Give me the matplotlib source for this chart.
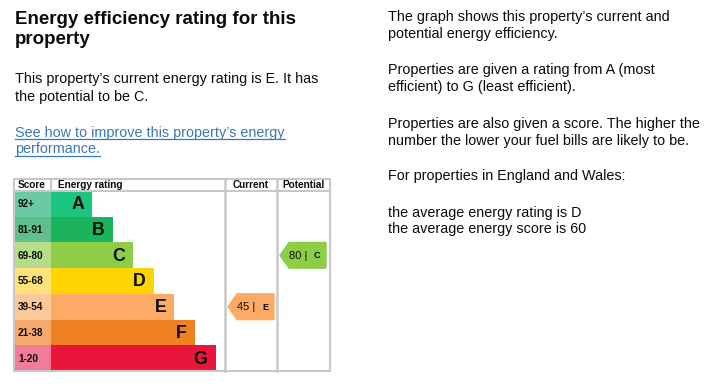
import matplotlib
matplotlib.use("Agg")
import matplotlib.pyplot as plt
from matplotlib.patches import Polygon, Rectangle

# ---- data ----
ratings = ["A", "B", "C", "D", "E", "F", "G"]
score_bands = ["92+", "81-91", "69-80", "55-68", "39-54", "21-38", "1-20"]
bar_colors = ["#1cc57f", "#1bb35b", "#8dce46", "#ffd500", "#fcaa65", "#ef8023", "#e9153b"]
band_colors = ["#6ccaa3", "#5fc08e", "#b6dd8a", "#ffe37a", "#fdc99a", "#f5a96a", "#f07c95"]
current_score, current_rating = 45, "E"
potential_score, potential_rating = 80, "C"
average_rating, average_score = "D", 60

title_lines = ["Energy efficiency rating for this", "property"]
summary_lines = [f"This property\u2019s current energy rating is {current_rating}. It has",
                 f"the potential to be {potential_rating}."]
link_lines = ["See how to improve this property\u2019s energy", "performance."]
right_paras = [
    ["The graph shows this property\u2019s current and", "potential energy efficiency."],
    ["Properties are given a rating from A (most", "efficient) to G (least efficient)."],
    ["Properties are also given a score. The higher the",
     "number the lower your fuel bills are likely to be."],
    ["For properties in England and Wales:"],
    [f"the average energy rating is {average_rating}",
     f"the average energy score is {average_score}"],
]

plt.rcParams["font.family"] = ["Liberation Sans", "DejaVu Sans"]
TXT = "#0b0c0c"
GRID = "#c8c8c8"

W, H = 721, 387
fig = plt.figure(figsize=(W / 100, H / 100), dpi=100)
ax = fig.add_axes([0, 0, 1, 1])
ax.set_xlim(0, W)
ax.set_ylim(H, 0)
ax.axis("off")

BODY = 10.4

# ---- left texts ----
for i, ln in enumerate(title_lines):
    ax.text(15, 24 + 19.5 * i, ln, fontsize=13.5, fontweight="bold", color=TXT,
            va="baseline")
for i, ln in enumerate(summary_lines):
    ax.text(15, 83.5 + 17.3 * i, ln, fontsize=BODY, color=TXT, va="baseline")
link_color = "#3a78b6"
link_texts = []
for i, ln in enumerate(link_lines):
    t = ax.text(15, 136.5 + 17 * i, ln, fontsize=BODY, color=link_color, va="baseline")
    link_texts.append(t)

# ---- right texts ----
para_y = [21, 74, 128, 180, 216.5]
for y, p in zip(para_y, right_paras):
    for j, ln in enumerate(p):
        ax.text(388, y + 16.7 * j, ln, fontsize=BODY, color=TXT, va="baseline")

# ---- chart ----
left, right = 14, 330
top, head_bot, bottom = 178.5, 191, 371
score_r, cur_l, pot_l = 51, 225, 277
row_h = (bottom - head_bot) / len(ratings)
ys = [head_bot + row_h * (i + 0.5) for i in range(len(ratings))]
bar_len = [41 + 20.6 * i for i in range(len(ratings))]

ax.barh(ys, [score_r - left] * len(ratings), left=left, height=row_h,
        color=band_colors, edgecolor="none", zorder=2)
ax.barh(ys, bar_len, left=score_r, height=row_h, color=bar_colors,
        edgecolor="none", zorder=2)

for y, lab in zip(ys, score_bands):
    ax.text(18, y + 0.5, lab, fontsize=7.2, fontweight="bold", color=TXT,
            va="center", ha="left", zorder=3)
for y, r, L in zip(ys, ratings, bar_len):
    ax.text(score_r + L - 8, y + 1, r, fontsize=12.8, fontweight="bold",
            color=TXT, va="center", ha="right", zorder=3)

# frame & grid
ax.add_patch(Rectangle((left, top), right - left, bottom - top, fill=False,
                       edgecolor=GRID, lw=1.5, zorder=4))
ax.plot([left, right], [head_bot, head_bot], color=GRID, lw=1.5, zorder=4)
ax.plot([score_r, score_r], [top, head_bot], color=GRID, lw=1.5, zorder=4)
for x in (cur_l, pot_l):
    ax.plot([x, x], [top, bottom], color=GRID, lw=1.8, zorder=4)

hy = (top + head_bot) / 2 + 0.5
ax.text(18, hy, "Score", fontsize=7.2, fontweight="bold", color=TXT, va="center")
ax.text(58, hy, "Energy rating", fontsize=7.2, fontweight="bold", color=TXT, va="center")
ax.text((cur_l + pot_l) / 2, hy, "Current", fontsize=7.2, fontweight="bold",
        color=TXT, va="center", ha="center")
ax.text((pot_l + right) / 2, hy, "Potential", fontsize=7.2, fontweight="bold",
        color=TXT, va="center", ha="center")

def arrow(col_l, score, rating):
    idx = ratings.index(rating)
    yc = ys[idx]
    y0, y1 = yc - row_h / 2, yc + row_h / 2
    x_tip = col_l + 3
    x_body = col_l + 12
    x_end = col_l + 49
    poly = Polygon([(x_tip, yc), (x_body, y0), (x_end, y0), (x_end, y1),
                    (x_body, y1)], closed=True, color=bar_colors[idx], zorder=3)
    ax.add_patch(poly)
    ax.text(x_body, yc + 0.5, f"{score} |", fontsize=8, color=TXT, va="center",
            ha="left", zorder=5)
    ax.text(x_body + 25, yc + 0.5, rating, fontsize=6.5, fontweight="bold",
            color=TXT, va="center", ha="left", zorder=5)

arrow(cur_l, current_score, current_rating)
arrow(pot_l, potential_score, potential_rating)

# underline for links
fig.canvas.draw()
r = fig.canvas.get_renderer()
inv = ax.transData.inverted()
for t in link_texts:
    bb = t.get_window_extent(r)
    (x0, _), (x1, _) = inv.transform([(bb.x0, 0), (bb.x1, 0)])
    yb = t.get_position()[1] + 2.2
    ax.plot([x0, x1], [yb, yb], color=link_color, lw=0.9)

fig.savefig("out.png", dpi=100)
